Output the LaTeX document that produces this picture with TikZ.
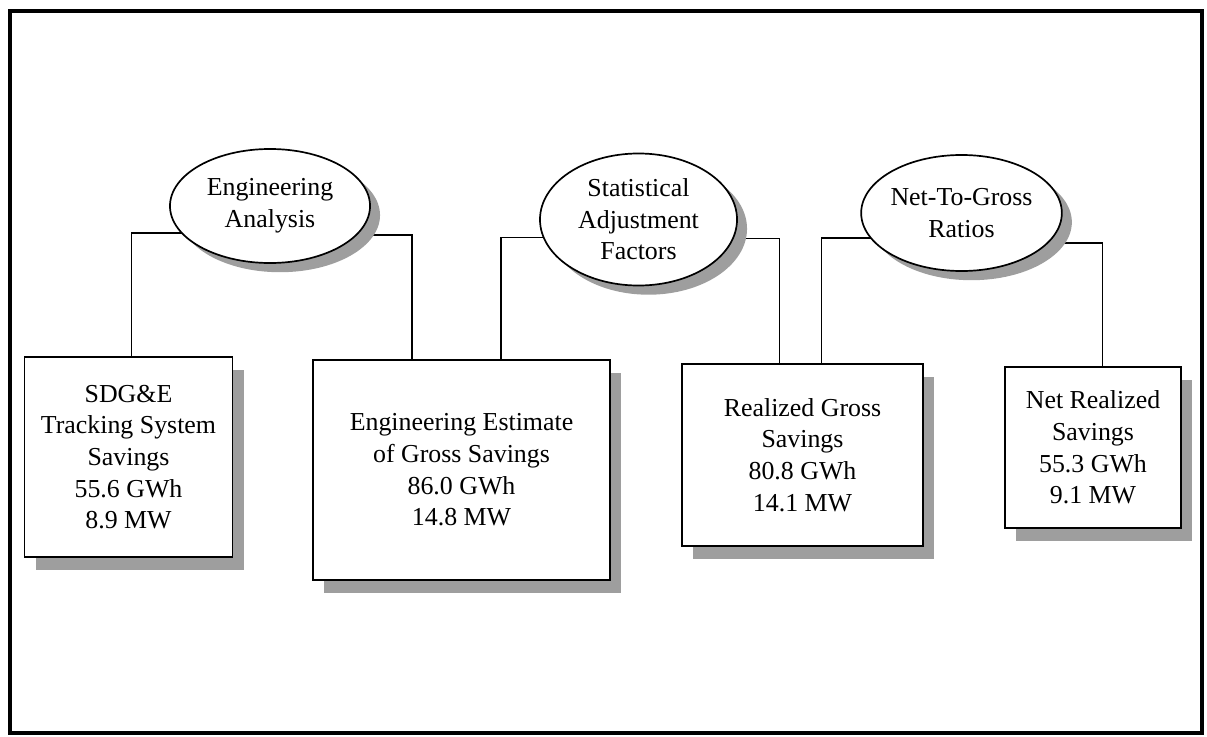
\documentclass[tikz,border=0pt]{standalone}
\usepackage{fontspec}
\setmainfont{Liberation Serif}
\usetikzlibrary{shapes.geometric,shadows,calc,backgrounds}

\begin{document}
\begin{tikzpicture}[x=0.025cm, y=-0.025cm,
    % Node styles
    result/.style={draw, line width=1.2pt, fill=white, align=center, inner sep=0pt,
        font=\fontsize{18.4}{22.5}\selectfont,
        drop shadow={shadow xshift=0.28cm, shadow yshift=-0.33cm, fill=black!38, opacity=1}},
    factor/.style={ellipse, draw, line width=1.2pt, fill=white, align=center, inner sep=0pt,
        font=\fontsize{18.4}{22.5}\selectfont,
        drop shadow={shadow xshift=0.25cm, shadow yshift=-0.23cm, fill=black!38, opacity=1}},
    link/.style={line width=0.9pt}
]
\useasboundingbox (0,0) rectangle (1207,736);

% Outer frame
\draw[line width=2.6pt] (10,11) rectangle (1202,733);

% Savings boxes (bottom row)
\node[result, minimum width=5.2cm, minimum height=5cm] (track) at (128.5,457) {SDG\&E\\Tracking System\\Savings\\55.6 GWh\\8.9 MW};
\node[result, minimum width=7.425cm, minimum height=5.5cm] (estimate) at (461.5,470) {Engineering Estimate\\of Gross Savings\\86.0 GWh\\14.8 MW};
\node[result, minimum width=6.025cm, minimum height=4.55cm] (gross) at (802.5,455) {Realized Gross\\Savings\\80.8 GWh\\14.1 MW};
\node[result, minimum width=4.4cm, minimum height=4.025cm] (net) at (1093,447.5) {Net Realized\\Savings\\55.3 GWh\\9.1 MW};

% Adjustment ellipses (top row)
\node[factor, minimum width=5cm, minimum height=2.85cm] (engan) at (270,206) {Engineering\\Analysis};
\node[factor, minimum width=4.925cm, minimum height=3.3cm] (statadj) at (638.5,219.5) {Statistical\\Adjustment\\Factors};
\node[factor, minimum width=4.875cm, minimum height=2.9cm] (ntg) at (961.5,213) {Net-To-Gross\\Ratios};

% Connectors (behind the shapes)
\begin{scope}[on background layer]
\draw[link] ($(track.north west)+(108,0)$) |- ($(engan.center)+(0,27)$);
\draw[link] ($(estimate.north west)+(100,0)$) |- ($(engan.center)+(0,29)$);
\draw[link] ($(estimate.north west)+(189,0)$) |- ($(statadj.center)+(0,18)$);
\draw[link] ($(gross.north west)+(98,0)$) |- ($(statadj.center)+(0,19)$);
\draw[link] ($(gross.north west)+(140,0)$) |- ($(ntg.center)+(0,25)$);
\draw[link] ($(net.north west)+(98,0)$) |- ($(ntg.center)+(0,30)$);
\end{scope}

\end{tikzpicture}
\end{document}
